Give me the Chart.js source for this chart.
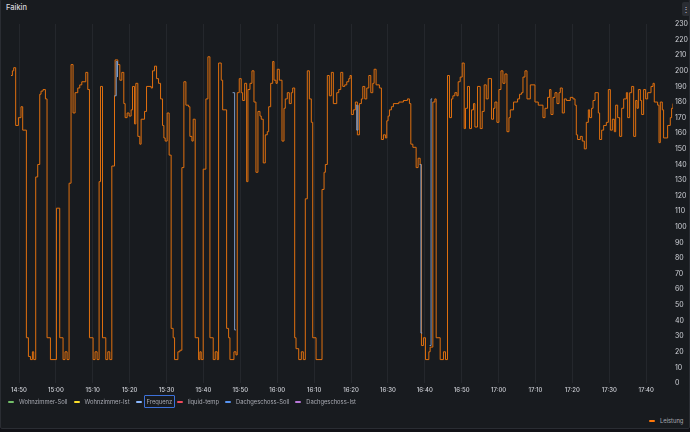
<!DOCTYPE html>
<html>
<head>
<meta charset="utf-8">
<script src="https://cdn.jsdelivr.net/npm/chart.js@4.4.1/dist/chart.umd.min.js"></script>
<style>
  html, body { margin: 0; padding: 0; background: #111217; }
  body { width: 690px; height: 432px; overflow: hidden; position: relative; font-family: Inter, "Noto Sans", sans-serif; }
  .panel { position: absolute; left: 0; top: -1px; width: 688px; height: 428px; background: #181b1f; border: 1px solid #2a2d33; border-radius: 2px; }
  .title { position: absolute; left: 6px; top: 3px; font-size: 7.5px; font-weight: 500; color: #d8d9de; }
  .menu { position: absolute; left: 682px; top: 2px; width: 8px; height: 14px; background: #2a2d33; border-radius: 2px; color: #ccccdc; font-size: 8px; line-height: 14px; text-align: center; }
  .chart-box { position: absolute; left: 0; top: 0; width: 690px; height: 400px; }
  .legend { position: absolute; display: flex; align-items: center; font-size: 5.8px; color: #a8aab2; white-space: nowrap; }
  .item { display: flex; align-items: center; margin-right: 6px; height: 13px; }
  .item i { display: inline-block; width: 6px; height: 2px; border-radius: 1px; margin-right: 5px; }
  .item span.on { border: 1px solid #3d71d9; border-radius: 1px; padding: 2px 1.5px; margin-left: -2.5px; margin-right: -4px; }
</style>
</head>
<body>
<div class="panel"></div>
<div class="title">Faikin</div>
<div class="menu">⋮</div>
<div class="chart-box"><canvas id="myChart"></canvas></div>
<div class="legend" id="legendLeft" style="left: 8px; top: 395px;"></div>
<div class="legend" id="legendRight" style="left: 649px; top: 414px;"></div>

<script>
// Zeit in Minuten nach 14:50
const minutes = [
  -2.17, -1.79, -1.44, -0.9, -0.16, 0.54, 1.0, 2.0, 2.55, 3.1, 3.63, 3.99, 4.53, 5.07, 5.62, 5.97, 6.51, 7.16, 7.6, 8.52,
  10.15, 11.04, 11.94, 12.48, 13.03, 13.57, 14.11, 14.65, 15.2, 15.93, 16.47, 17.02, 18.1, 18.64, 19.1, 20.08, 20.62, 21.17, 21.71, 22.09,
  22.63, 23.53, 24.07, 24.61, 25.16, 25.89, 26.05, 26.78, 27.33, 27.87, 28.41, 28.77, 29.31, 29.85, 30.39, 30.77, 31.32, 31.67, 32.21, 32.75,
  33.1, 34.03, 34.57, 35.82, 36.2, 36.74, 37.29, 37.83, 38.37, 38.91, 39.27, 39.62, 40.16, 40.7, 41.24, 41.79, 42.17, 43.07, 43.61, 44.15,
  44.69, 45.24, 45.97, 46.32, 46.87, 47.22, 47.76, 48.68, 49.04, 49.39, 49.93, 50.66, 51.21, 51.75, 52.65, 53.19, 53.73, 54.11, 54.82, 55.2,
  56.28, 56.82, 57.18, 58.26, 58.81, 59.16, 59.7, 60.24, 60.62, 61.17, 61.71, 62.06, 62.61, 63.15, 63.69, 64.23, 64.77, 65.32, 65.67, 66.21,
  66.76, 67.3, 67.68, 68.22, 68.77, 69.12, 69.66, 70.01, 70.56, 71.29, 71.83, 72.18, 72.73, 73.27, 73.81, 74.19, 74.73, 75.09, 75.82, 76.53,
  77.07, 77.61, 78.15, 78.7, 79.24, 79.62, 80.52, 82.14, 82.69, 83.04, 83.58, 84.12, 84.67, 85.21, 86.13, 86.67, 87.22, 87.76, 88.3, 88.85,
  89.39, 89.74, 90.1, 90.64, 91.18, 91.72, 92.27, 92.81, 93.19, 93.73, 94.27, 94.82, 95.36, 95.9, 96.26, 96.8, 97.69, 98.24, 98.78, 99.32,
  99.7, 100.05, 100.41, 100.95, 101.49, 102.96, 104.2, 105.29, 105.83, 106.21, 106.76, 107.65, 108.19, 108.74, 109.09, 109.63, 110.18, 111.1, 111.45, 112.18,
  112.73, 113.08, 114.17, 115.06, 115.6, 116.15, 116.69, 117.23, 117.61, 118.15, 118.7, 119.05, 119.59, 120.14, 120.68, 121.03, 121.57, 122.12, 122.66, 123.2,
  123.58, 124.29, 125.02, 125.56, 126.1, 126.65, 127.19, 128.09, 128.63, 129.01, 129.55, 130.09, 130.64, 131.18, 131.72, 132.27, 132.81, 133.17, 134.06, 135.15,
  135.69, 136.23, 136.61, 137.15, 137.7, 138.6, 139.86, 140.76, 142.03, 142.58, 143.28, 143.82, 144.2, 144.75, 145.29, 145.83, 146.38, 146.73, 147.27, 147.82,
  148.36, 149.44, 150.17, 150.72, 151.07, 151.42, 152.15, 152.69, 153.24, 153.78, 154.33, 154.68, 155.22, 155.6, 156.15, 157.04, 157.39, 157.94, 158.48, 159.21,
  159.75, 160.3, 160.84, 161.38, 161.74, 162.28, 162.82, 163.37, 163.91, 164.64, 164.99, 165.53, 166.08, 166.62, 167.16, 167.54, 167.89, 168.43, 168.78, 169.32,
  169.86, 170.41, 171.32, 171.86, 172.21, 173.11, 173.49, 173.84, 174.38, 174.73, 175.82, 176.54, 176.9, 177.28
];

// Leistung
const leistung = [
  197, 200, 202, 165, 170, 177, 162, 29, 17, 15, 20, 15, 132, 140, 185, 187, 188, 182, 29, 15,
  112, 29, 15, 20, 15, 128, 204, 173, 186, 189, 191, 193, 199, 188, 29, 15, 20, 15, 129, 190,
  29, 15, 20, 15, 139, 184, 207, 204, 194, 199, 179, 170, 173, 171, 175, 190, 166, 192, 158, 153,
  169, 174, 190, 189, 200, 203, 195, 192, 182, 165, 157, 155, 173, 146, 35, 29, 15, 20, 21, 138,
  193, 178, 177, 158, 155, 169, 29, 15, 20, 15, 137, 182, 209, 29, 15, 20, 15, 205, 194, 175,
  35, 29, 15, 20, 18, 186, 195, 186, 181, 192, 129, 188, 192, 200, 180, 135, 174, 171, 169, 141,
  159, 161, 177, 192, 206, 194, 192, 201, 194, 155, 176, 182, 186, 179, 186, 189, 29, 22, 15, 20,
  15, 118, 200, 182, 167, 29, 15, 124, 135, 140, 197, 184, 199, 179, 186, 188, 199, 190, 191, 193,
  195, 197, 172, 175, 180, 159, 179, 182, 190, 182, 189, 197, 186, 192, 201, 191, 189, 156, 159, 157,
  168, 171, 175, 177, 179, 180, 181, 182, 179, 153, 151, 138, 144, 140, 24, 29, 15, 20, 23, 180,
  182, 29, 15, 20, 15, 197, 170, 182, 184, 186, 184, 193, 196, 205, 163, 176, 190, 163, 175, 179,
  164, 190, 163, 174, 191, 182, 195, 169, 176, 180, 167, 188, 200, 192, 198, 161, 170, 175, 180, 182,
  185, 186, 196, 200, 182, 191, 180, 178, 170, 176, 183, 188, 172, 183, 186, 179, 186, 189, 173, 182,
  181, 183, 182, 178, 159, 156, 158, 155, 150, 167, 175, 170, 176, 181, 186, 173, 156, 162, 165, 167,
  188, 162, 169, 161, 178, 170, 158, 176, 182, 186, 170, 186, 190, 158, 181, 176, 188, 181, 172, 188,
  182, 186, 190, 192, 180, 178, 154, 180, 175, 157, 165, 170, 176, 179
];

// Frequenz (nur die sichtbaren Stücke, sonst unter Leistung verdeckt)
const freqMinutes = [25.9, 26.35, 26.7, null, 57.9, 58.45, 58.8, null, 91.3, 91.55, 91.9, null, 108.6, 108.95, 109.3, null, 111.3, 111.7, 112.0];
const frequenz    = [184, 206, 196, null, 186, 34, 34, null, 178, 162, 178, null, 140, 32, 32, null, 24, 182, 182];

// X-Achse Beschriftung (alle 10 Minuten ab 14:50)
const tickLabels = ['14:50', '15:00', '15:10', '15:20', '15:30', '15:40', '15:50', '16:00', '16:10', '16:20',
  '16:30', '16:40', '16:50', '17:00', '17:10', '17:20', '17:30', '17:40'];

// Legende
const legendNames = ['Wohnzimmer-Soll', 'Wohnzimmer-Ist', 'Frequenz', 'liquid-temp', 'Dachgeschoss-Soll', 'Dachgeschoss-Ist'];
const legendColors = ['#73bf69', '#fade2a', '#8ab8ff', '#f2495c', '#5794f2', '#b877d9'];

// Legende bauen
const left = document.getElementById('legendLeft');
legendNames.forEach((name, i) => {
  const el = document.createElement('div');
  el.className = 'item';
  const cls = name === 'Frequenz' ? ' class="on"' : '';
  el.innerHTML = `<i style="background:${legendColors[i]}"></i><span${cls}>${name}</span>`;
  left.appendChild(el);
});
document.getElementById('legendRight').innerHTML =
  '<div class="item"><i style="background:#ff780a"></i><span>Leistung</span></div>';

const ctx = document.getElementById('myChart').getContext('2d');

const myChart = new Chart(ctx, {
  type: 'line',
  data: {
    datasets: [{
      label: 'Frequenz',
      data: freqMinutes.map((m, i) => ({ x: m, y: frequenz[i] })),
      borderColor: '#7e9cc8',
      borderWidth: 1,
      stepped: true,
      spanGaps: false,
      pointRadius: 0,
      fill: false
    }, {
      label: 'Leistung',
      data: minutes.map((m, i) => ({ x: m, y: leistung[i] })),
      borderColor: '#e0700f',
      borderWidth: 1,
      stepped: true,
      pointRadius: 0,
      fill: false
    }]
  },
  options: {
    responsive: true,
    maintainAspectRatio: false,
    animation: false,
    layout: { padding: { left: 11, top: 24, right: 0, bottom: 1 } },
    plugins: {
      legend: { display: false },
      tooltip: { enabled: false }
    },
    scales: {
      x: {
        type: 'linear',
        min: minutes[0],
        max: minutes[minutes.length - 1],
        afterFit: (scale) => { scale.height = 16; },
        grid: { color: 'rgba(204,204,220,0.07)', drawTicks: false },
        border: { display: false },
        ticks: {
          stepSize: 10,
          includeBounds: false,
          maxRotation: 0,
          autoSkip: false,
          padding: 4,
          color: '#d0d2d8',
          font: { family: 'Inter', size: 6, weight: 500 },
          callback: (value) => tickLabels[Math.round(value / 10)]
        }
      },
      y: {
        position: 'right',
        min: 0,
        max: 230,
        afterFit: (scale) => { scale.width = 17; },
        grid: { display: false, drawTicks: false },
        border: { display: false },
        ticks: {
          stepSize: 10,
          padding: 2,
          color: '#d0d2d8',
          font: { family: 'Inter', size: 7 }
        }
      }
    }
  }
});
</script>
</body>
</html>
